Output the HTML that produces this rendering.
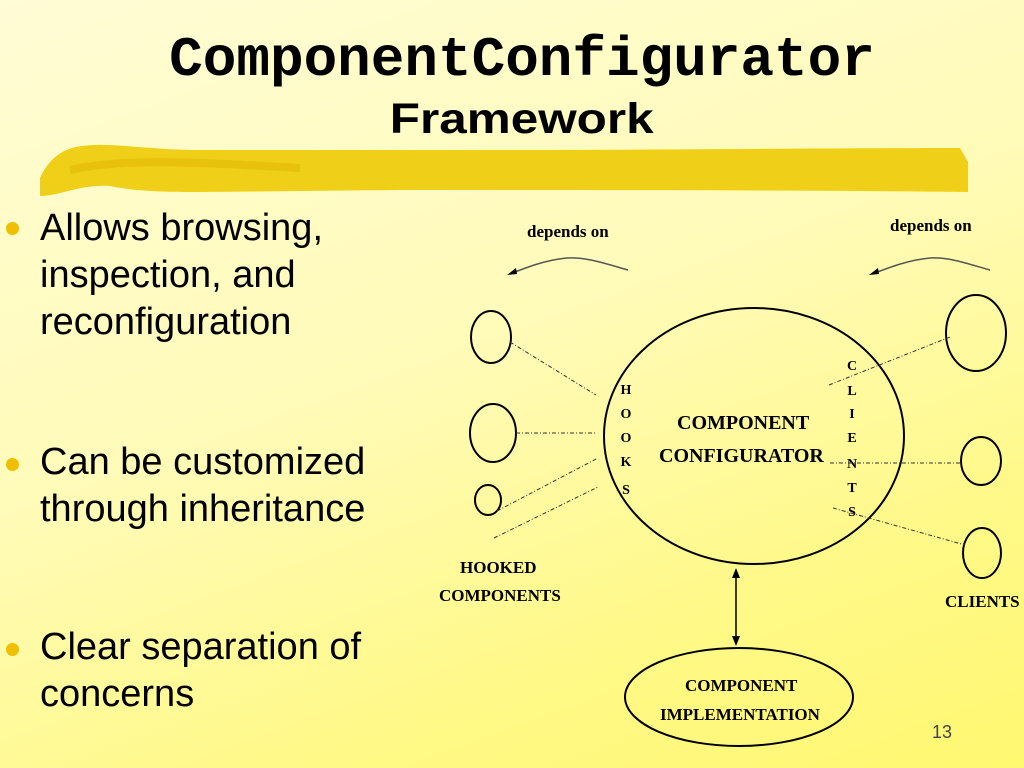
<!DOCTYPE html>
<html><head><meta charset="utf-8"><style>
html,body{margin:0;padding:0}
body{width:1024px;height:768px;overflow:hidden;position:relative;
background:linear-gradient(160deg,#fffcd6 0%,#fffbb8 45%,#fff98a 75%,#fff870 100%);
font-family:"Liberation Sans",sans-serif}
.t1{position:absolute;left:0;width:1044px;top:30px;text-align:center;font-family:"Liberation Mono",monospace;font-weight:bold;font-size:56px;line-height:60px;color:#000}
.t2{position:absolute;left:0;width:1044px;top:95px;text-align:center;font-weight:bold;font-size:43px;color:#000}
.t2 span{display:inline-block;transform:scaleX(1.15)}
.b{position:absolute;left:40px;font-size:38px;line-height:47px;color:#000}
.dot{position:absolute;left:6px;width:13px;height:13px;border-radius:50%;background:#f0c000}
.pn{position:absolute;left:932px;top:722px;font-size:18px;color:#444}
</style></head><body>
<div class="t1">ComponentConfigurator</div>
<div class="t2"><span>Framework</span></div>
<svg style="position:absolute;left:0;top:0" width="1024" height="768">
<path d="M40,178 C48,160 62,148 82,146 C110,142 150,150 200,150 L500,150 C650,150 850,148 960,148 L968,162 L968,192 C800,190 600,190 400,190 L200,192 C150,192 130,190 110,186 C80,184 60,196 40,196 Z" fill="#f0cf18"/>
<path d="M70,170 C120,158 200,162 300,168" stroke="#ddb400" stroke-width="8" fill="none" opacity="0.5"/>
<g font-family="Liberation Serif,serif" font-weight="bold" fill="#000">
<text x="527" y="237" font-size="17">depends on</text>
<text x="890" y="231" font-size="17">depends on</text>
<text x="677" y="429" font-size="20">COMPONENT</text>
<text x="659" y="462" font-size="20">CONFIGURATOR</text>
<text x="460" y="573" font-size="17">HOOKED</text>
<text x="439" y="601" font-size="17">COMPONENTS</text>
<text x="945" y="607" font-size="17">CLIENTS</text>
<text x="685" y="691" font-size="17">COMPONENT</text>
<text x="660" y="720" font-size="17">IMPLEMENTATION</text>
<g font-size="14" text-anchor="middle">
<text x="626" y="394">H</text><text x="626" y="418">O</text><text x="626" y="442">O</text><text x="626" y="466">K</text><text x="626" y="494">S</text>
<text x="852" y="370">C</text><text x="852" y="395">L</text><text x="852" y="418">I</text><text x="852" y="442">E</text><text x="852" y="468">N</text><text x="852" y="492">T</text><text x="852" y="516">S</text>
</g></g>
<g fill="none" stroke="#000" stroke-width="2">
<ellipse cx="754" cy="436" rx="150" ry="128"/>
<ellipse cx="739" cy="697" rx="114" ry="49"/>
<ellipse cx="491" cy="337" rx="20" ry="26"/>
<ellipse cx="493" cy="433" rx="23" ry="29"/>
<ellipse cx="488" cy="500" rx="13" ry="15"/>
<ellipse cx="976" cy="333" rx="30" ry="38"/>
<ellipse cx="981" cy="461" rx="20" ry="24"/>
<ellipse cx="982" cy="553" rx="19" ry="25"/>
</g>
<g stroke="#333" stroke-width="1" stroke-dasharray="4,2,1,2" fill="none">
<line x1="510" y1="342" x2="596" y2="395"/>
<line x1="516" y1="433" x2="595" y2="433"/>
<line x1="497" y1="511" x2="598" y2="458"/>
<line x1="494" y1="538" x2="598" y2="487"/>
<line x1="829" y1="385" x2="950" y2="337"/>
<line x1="830" y1="463" x2="961" y2="463"/>
<line x1="833" y1="508" x2="965" y2="545"/>
</g>
<g stroke="#555" stroke-width="1.5" fill="none">
<path d="M628,270 C600,262 585,257 567,258 C545,260 525,268 510,274"/>
<path d="M990,270 C962,262 948,257 930,258 C908,260 888,268 872,274"/>
<line x1="736" y1="572" x2="736" y2="642" stroke="#000"/>
</g>
<g fill="#000">
<polygon points="507,275 516,268 517,274"/>
<polygon points="869,275 878,268 879,274"/>
<polygon points="736,568 732,578 740,578"/>
<polygon points="736,646 732,636 740,636"/>
</g>
</svg>
<div class="dot" style="top:222px"></div>
<div class="b" style="top:205px">Allows browsing,<br>inspection, and<br>reconfiguration</div>
<div class="dot" style="top:458px"></div>
<div class="b" style="top:439px">Can be customized<br>through inheritance</div>
<div class="dot" style="top:643px"></div>
<div class="b" style="top:624px">Clear separation of<br>concerns</div>
<div class="pn">13</div>
</body></html>
